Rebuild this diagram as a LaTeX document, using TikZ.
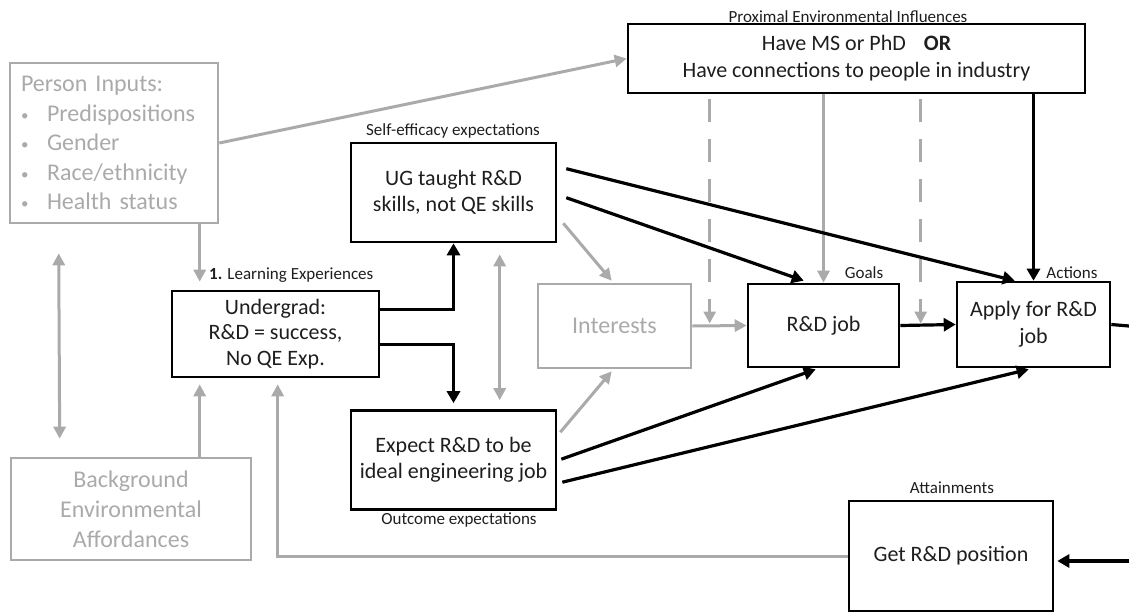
\documentclass[tikz,border=0pt]{standalone}
\usepackage{fontspec}
\setmainfont{Carlito}
\usetikzlibrary{arrows.meta,calc}
\definecolor{gry}{RGB}{170,170,170}
\definecolor{txt}{RGB}{30,30,30}
\newcommand{\pbul}{\makebox[26pt][l]{\raisebox{1pt}{\fontsize{15}{15}\selectfont •}}}
\tikzset{
  bbox/.style={draw=black, line width=2.6pt, inner sep=0pt, align=center, text=txt,
    font=\fontsize{22}{25.5}\selectfont},
  gbox/.style={draw=gry, line width=2.6pt, inner sep=0pt, align=center, text=gry,
    font=\fontsize{24}{29.5}\selectfont},
  lbl/.style={inner sep=0pt, text=txt, font=\fontsize{17}{20}\selectfont},
  barrow/.style={draw=black, line width=3.2pt, -{Triangle[length=12pt,width=13pt]}},
  garrow/.style={draw=gry, line width=3pt, -{Triangle[length=12pt,width=12pt]}},
  gboth/.style={draw=gry, line width=3pt, {Triangle[length=12pt,width=12pt]}-{Triangle[length=12pt,width=12pt]}},
  gdash/.style={garrow, dash pattern=on 23pt off 17pt, dash phase=35pt},
}
\begin{document}
\begin{tikzpicture}[x=1pt,y=-1pt]
\useasboundingbox (0,0) rectangle (1129,613);

% boxes
\node[gbox, minimum width=208pt, minimum height=160pt, text width=186pt, align=left] (person) at (114,143)
  {Person Inputs:\\
   \pbul Predispositions\\
   \pbul Gender\\
   \pbul Race/ethnicity\\
   \pbul Health status};
\node[gbox, minimum width=240pt, minimum height=102pt, font=\fontsize{24}{30}\selectfont] (background) at (131,509)
  {Background\\Environmental\\Affordances};
\node[bbox, minimum width=207pt, minimum height=86pt] (undergrad) at (275.5,334)
  {Undergrad:\\R\&D = success,\\No QE Exp.};
\node[bbox, minimum width=205pt, minimum height=99pt] (selfeff) at (453.5,192.5)
  {UG taught R\&D\\skills, not QE skills};
\node[bbox, minimum width=205pt, minimum height=99pt, font=\fontsize{22}{26}\selectfont] (outcome) at (453.5,460)
  {Expect R\&D to be\\ideal engineering job};
\node[gbox, minimum width=153pt, minimum height=84pt] (interests) at (614.5,326) {Interests};
\node[bbox, minimum width=151pt, minimum height=83pt] (goals) at (823.5,325.5) {R\&D job};
\node[bbox, minimum width=153pt, minimum height=85pt, font=\fontsize{22}{27}\selectfont] (actions) at (1033.5,324.5)
  {Apply for R\&D\\job};
\node[bbox, minimum width=457pt, minimum height=69pt, font=\fontsize{22}{27}\selectfont] (proximal) at (856.5,58.5)
  {Have MS or PhD\hspace{18pt}\textbf{OR}\\Have connections to people in industry};
\node[bbox, minimum width=204pt, minimum height=110pt] (attain) at (951,556) {Get R\&D position};

% labels
\node[lbl] (lprox) at (848,17) {Proximal Environmental Influences};
\node[lbl] (lself) at (453,131) {Self-efficacy expectations};
\node[lbl, anchor=west] (llearn) at (209,275) {\textbf{1.} Learning Experiences};
\node[lbl] (lgoals) at (864,273) {Goals};
\node[lbl] (lact) at (1072,273) {Actions};
\node[lbl] (lout) at (459,520) {Outcome expectations};
\node[lbl] (latt) at (952,488) {Attainments};

% helper coordinates
\coordinate (outR) at (1129,326);
\coordinate (inR) at (1129,561);
\coordinate (u1) at ($(undergrad.north west)+(29,-8)$);
\coordinate (d1) at ($(proximal.south west)+(83,0)$);
\coordinate (d2) at ($(proximal.south west)+(294,0)$);

% gray connectors
\draw[garrow] (person.east) -- (proximal.west);
\draw[garrow] (u1 |- person.south) -- (u1);
\draw[gboth] ($(person.south west)+(50,29)$) -- ($(background.north west)+(50,-18)$);
\draw[garrow] ($(background.north west)+(190,0)$) -- ($(undergrad.south west)+(29,6)$);
\draw[garrow] (attain.west) -| ($(undergrad.south west)+(107,6)$);
\draw[gboth] ($(selfeff.south west)+(150,11)$) -- ($(outcome.north west)+(150,-9)$);
\draw[garrow] ($(selfeff.south east)+(6,-20)$) -- ($(interests.north west)+(75,-2)$);
\draw[garrow] ($(outcome.north east)+(3,23)$) -- ($(interests.south west)+(75,2)$);
\draw[garrow] (interests.east) -- (goals.west);
\draw[garrow] (goals.north |- proximal.south) -- (goals.north);
\draw[gdash] (d1) -- ($(d1 |- goals.west)+(0,-2)$);
\draw[gdash] (d2) -- ($(d2 |- goals.west)+(0,-2)$);

% black connectors
\draw[barrow] ($(undergrad.north east)+(0,20)$) -| (selfeff.south);
\draw[barrow] ($(undergrad.north east)+(0,55)$) -| ($(outcome.north)+(0,-6)$);
\draw[barrow] (goals.east) -- (actions.west);
\draw[barrow] (actions.north |- proximal.south) -- (actions.north);
\draw[barrow] ($(selfeff.north east)+(9,56)$) -- ($(goals.north west)+(57,-2)$);
\draw[barrow] ($(selfeff.north east)+(9,27)$) -- ($(actions.north west)+(59,0)$);
\draw[barrow] ($(outcome.north east)+(4,50)$) -- ($(goals.south west)+(69,1)$);
\draw[barrow] ($(outcome.north east)+(5,73)$) -- ($(actions.south west)+(73,1)$);
\draw[draw=black, line width=3.2pt] (actions.east) -- (outR);
\draw[barrow, shorten >=3pt] (inR) -- (inR -| attain.east);
\end{tikzpicture}
\end{document}
